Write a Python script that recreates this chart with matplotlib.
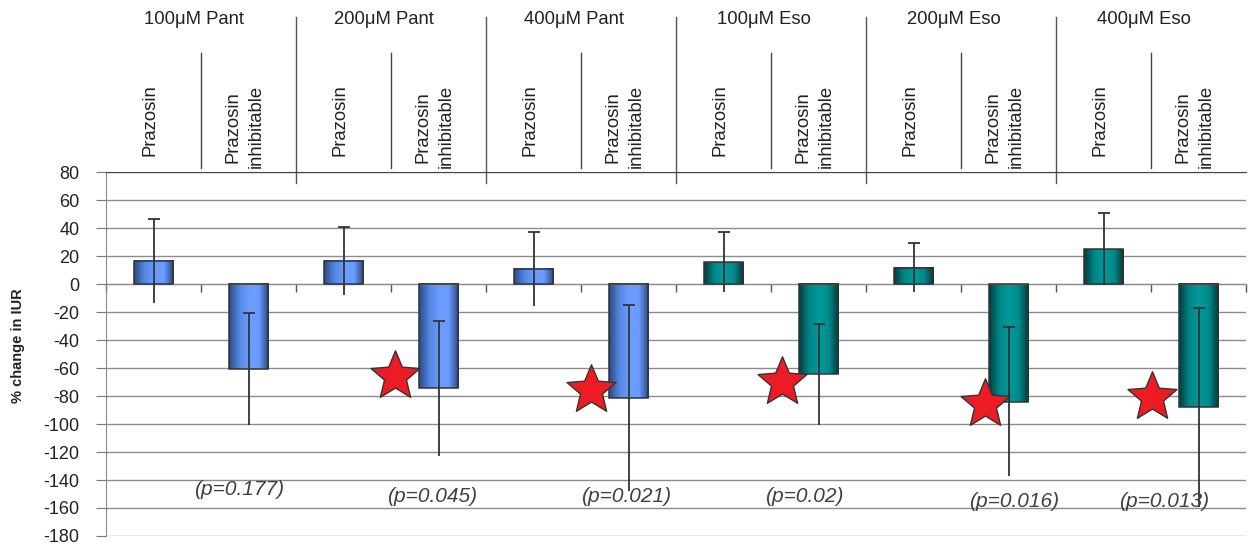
import numpy as np
import matplotlib
matplotlib.use("Agg")
import matplotlib.pyplot as plt
from matplotlib.colors import LinearSegmentedColormap
from matplotlib.transforms import blended_transform_factory
from matplotlib.path import Path

plt.rcParams['font.family'] = ['Liberation Sans', 'DejaVu Sans']
plt.rcParams['axes.unicode_minus'] = False

# data
groups = ['100μM Pant', '200μM Pant', '400μM Pant', '100μM Eso', '200μM Eso', '400μM Eso']
cats = ['Prazosin', 'Prazosin\ninhibitable'] * 6
values = [16.5, -61, 16.5, -74.5, 11, -81.5, 15.5, -64.5, 11.5, -84, 25, -88]
errors = [30, 40, 24.5, 48, 26.5, 66.5, 21.5, 36, 17.5, 53, 25.5, 71]
series = ['pant'] * 6 + ['eso'] * 6

# significance stars and p-values (annotations)
star_x = [2.54, 4.6, 6.62, 8.75, 10.51]
star_y = [-66, -76, -70, -86, -80.5]
p_labels = ['(p=0.177)', '(p=0.045)', '(p=0.021)', '(p=0.02)', '(p=0.016)', '(p=0.013)']
p_x = [0.9, 2.93, 4.97, 6.85, 9.06, 10.64]
p_y = [-151, -156, -156, -155.5, -159, -159]

cmaps = {
    'pant': LinearSegmentedColormap.from_list('pant', ['#2c4a82', '#5285de', '#6b9cff', '#6b9cff', '#2a4478']),
    'eso': LinearSegmentedColormap.from_list('eso', ['#053c3c', '#008585', '#009a9a', '#008a8a', '#043636']),
}

fig = plt.figure(figsize=(12.56, 5.44), dpi=100)
ax = fig.add_axes([106 / 1256, 8 / 544, 1140 / 1256, 364 / 544])

x = np.arange(len(values))
w = 0.42
grad = np.linspace(0, 1, 200).reshape(1, -1)
for xi, v, s in zip(x, values, series):
    ax.imshow(grad, extent=[xi - w / 2, xi + w / 2, 0, v], aspect='auto',
              cmap=cmaps[s], interpolation='bicubic', zorder=2)
ax.bar(x, values, w, facecolor='none', edgecolor='#333333', lw=1.1, zorder=3)

vals = np.array(values)
errs = np.array(errors)
ax.vlines(x, vals - errs, vals + errs, color='#333333', lw=1.3, zorder=4)
ax.plot(x, vals + errs, ls='none', marker='_', ms=8, mew=1.3, color='#333333', zorder=4)

star = Path.unit_regular_star(5, 0.45)
ax.plot(star_x, star_y, ls='none', marker=star, ms=37, mfc='#ed1c24',
        mec='#333333', mew=1, zorder=5)

for lab, px, py in zip(p_labels, p_x, p_y):
    ax.text(px, py, lab, ha='center', va='baseline', fontsize=15,
            style='italic', color='#404040', zorder=6)

ax.set_xlim(-0.5, 11.5)
ax.set_ylim(-180, 80)
ax.set_yticks(np.arange(-180, 81, 20))
ax.tick_params(axis='y', direction='out', length=7, color='#777777', pad=12,
               labelsize=13, labelcolor='#222222')

ax.set_xticks(np.arange(-0.5, 12, 1))
ax.set_xticklabels([])
ax.tick_params(axis='x', direction='out', length=6, color='#555555', width=1)
ax.spines['bottom'].set_position(('data', 0))
ax.spines['bottom'].set_color('#8c8c8c')
ax.spines['right'].set_visible(False)
ax.spines['top'].set_color('#444444')
ax.spines['left'].set_color('#888888')

ax.yaxis.grid(True, color='#8c8c8c', lw=1)
ax.set_axisbelow(True)
for t in ax.yaxis.get_major_ticks():
    loc = t.get_loc()
    if loc == -160:
        t.gridline.set_color('#333333')
    elif loc == -180:
        t.gridline.set_color('#b5b5b5')

# header above plot
tr = blended_transform_factory(ax.transData, ax.transAxes)
for g, name in enumerate(groups):
    ax.text(2 * g + 0.43, 1.4066, name, transform=tr, ha='center', va='baseline',
            fontsize=13.3, color='#222222')
    # category separator within group
    ax.plot([2 * g + 0.5] * 2, [1.327, 1.011], transform=tr, color='#444444',
            lw=1, clip_on=False)
    if g > 0:
        ax.plot([2 * g - 0.5] * 2, [1.426, 0.970], transform=tr, color='#555555',
                lw=1, clip_on=False)

for i, c in enumerate(cats):
    yc = 1.143 if '\n' not in c else 1.124
    ax.text(i - 0.04, yc, c, transform=tr, rotation=90, ha='center', va='center',
            multialignment='center', linespacing=1.5, fontsize=13.3, color='#222222')

fig.text(18 / 1256, 1 - 346 / 544, '% change in IUR', rotation=90, ha='center',
         va='center', fontsize=10.5, fontweight='bold', color='#222222')

fig.savefig('out.png', dpi=100)
